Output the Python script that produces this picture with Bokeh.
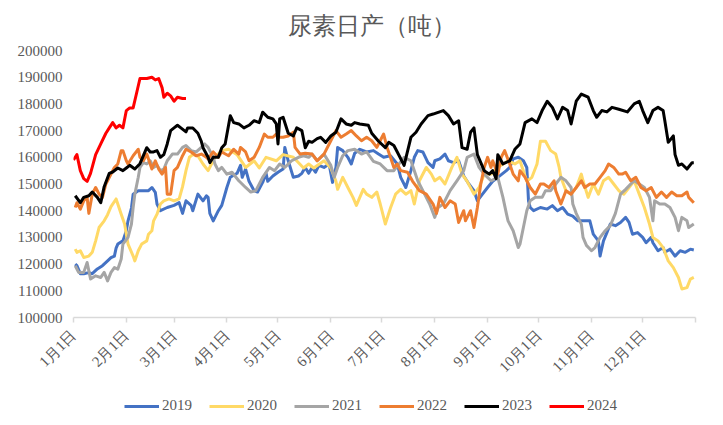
import math
from bokeh.plotting import figure
from bokeh.layouts import column
from bokeh.models import FixedTicker, NumeralTickFormatter, Legend, LegendItem, Range1d
from bokeh.embed import file_html
from bokeh.resources import INLINE

# ---- data ----
MONTH_DAYS = [0, 31, 59, 90, 120, 151, 181, 212, 243, 273, 304, 334, 365]
MONTH_LABELS = ["1月1日", "2月1日", "3月1日", "4月1日", "5月1日", "6月1日", "7月1日",
                "8月1日", "9月1日", "10月1日", "11月1日", "12月1日", ""]
Y_TICKS = [100000, 110000, 120000, 130000, 140000, 150000, 160000, 170000, 180000, 190000, 200000]

# (day of year, daily output in tonnes)
S2019 = [(1,120000),(2,119400),(4,116400),(6,116400),(9,116800),(11,116400),(14,118200),(17,119400),(20,121200),(22,122400),(24,123000),(25,126000),(26,127500),(29,128700),(31,132500),(32,136200),(34,141000),(35,146200),(38,147500),(41,147500),(44,147500),(46,148700),(48,146900),(49,142500),(51,140000),(55,141200),(59,142000),(62,143000),(64,139000),(66,143700),(69,142000),(70,140000),(73,146200),(76,143700),(78,145600),(79,145000),(80,139000),(82,136200),(85,140000),(87,142000),(90,148700),(92,152500),(96,154000),(98,157000),(99,152500),(101,155600),(103,151000),(106,147500),(108,147000),(111,150600),(113,154000),(114,151000),(117,153000),(120,154400),(123,155600),(124,163700),(126,158700),(129,152500),(132,153000),(134,154000),(136,156200),(138,154000),(140,156200),(142,154400),(144,157000),(147,156200),(150,157500),(152,150600),(154,156200),(155,163700),(158,162500),(161,160000),(163,157500),(165,161500),(168,163000),(172,162000),(176,162500),(179,161200),(182,160000),(186,160600),(190,157500),(192,152500),(195,148700),(198,155000),(200,160000),(202,162500),(205,162000),(208,158000),(211,156200),(212,158700),(215,159400),(218,161200),(220,158700),(223,158000),(226,158700),(229,153000),(232,150000),(235,147500),(237,143700),(240,146200),(243,148700),(246,151000),(249,152500),(254,155000),(256,156200),(258,159400),(261,160000),(264,158700),(266,156200),(267,143700),(268,141200),(270,140000),(274,141200),(278,140600),(281,141900),(284,140000),(287,141200),(290,138700),(293,138000),(296,136200),(299,136200),(303,136200),(305,131200),(308,128700),(309,123000),(311,128700),(313,131800),(315,135000),(318,134400),(321,135600),(324,137500),(326,135600),(328,131200),(331,131800),(334,130000),(336,128000),(339,130000),(340,128000),(343,125000),(346,126200),(347,124400),(350,125600),(353,123000),(356,125000),(359,124400),(362,125600),(364,125300)]

S2020 = [(1,125600),(2,124400),(4,125000),(6,122500),(9,123000),(11,124400),(13,128700),(15,133700),(18,136200),(20,138500),(22,141500),(25,144400),(26,142500),(28,138700),(30,135000),(31,131200),(32,127500),(35,123000),(36,121200),(38,125000),(40,127500),(43,128700),(44,131200),(46,132500),(47,136200),(49,138700),(51,142500),(53,143700),(56,144400),(59,143700),(62,144400),(64,149000),(66,155000),(68,160000),(70,161000),(73,160500),(76,157500),(79,155000),(83,160000),(87,162500),(91,163000),(96,161000),(101,156200),(106,158700),(109,156000),(113,160000),(119,158700),(123,161000),(129,160000),(135,156000),(138,157500),(141,156000),(147,158700),(151,156000),(154,151000),(155,148000),(158,152500),(161,148700),(164,145000),(166,142000),(168,145000),(170,148000),(172,146200),(175,145000),(178,147000),(180,142500),(181,140000),(183,135000),(186,141000),(189,146200),(192,148000),(195,146200),(198,147500),(200,142500),(203,151200),(207,156200),(210,153700),(212,151200),(215,152500),(218,150000),(222,156200),(225,160000),(228,153700),(231,151000),(235,146200),(238,148700),(241,153700),(245,153700),(249,156200),(252,157500),(255,158700),(259,157500),(262,158700),(266,151000),(269,152500),(272,157500),(274,166000),(277,166000),(280,162500),(283,161200),(285,156200),(286,152500),(289,147500),(292,146200),(295,148700),(298,153700),(299,151200),(302,145000),(305,150000),(308,146200),(311,151200),(314,152500),(317,150000),(320,147500),(323,146200),(326,148700),(329,151200),(332,146200),(335,141200),(338,135000),(340,130000),(343,128700),(346,126200),(349,121200),(352,118700),(355,115000),(357,110700),(360,111200),(362,114400),(364,115000)]

S2021 = [(1,119400),(3,116900),(6,116900),(8,120600),(10,114400),(13,115600),(16,115000),(18,116900),(20,113700),(22,116900),(24,118700),(26,118100),(28,121900),(29,127500),(32,130000),(34,135000),(35,141200),(36,146200),(38,152500),(39,156200),(41,158000),(43,157500),(45,158700),(47,156200),(49,157000),(51,155000),(53,155600),(55,158700),(58,161200),(61,161200),(64,163700),(66,164400),(69,162500),(72,162000),(75,163700),(77,165000),(79,163700),(82,160000),(83,157500),(85,155000),(87,156200),(90,153700),(93,154400),(97,151200),(101,148700),(104,147000),(107,147500),(111,152500),(115,156200),(118,155000),(121,157500),(124,156200),(128,158700),(132,160000),(135,160600),(138,160000),(140,161200),(143,158700),(147,161200),(151,157000),(153,152500),(155,156200),(158,160600),(161,162500),(165,163000),(169,161200),(172,162000),(176,158500),(180,157500),(184,155000),(188,155000),(194,160000),(198,158700),(202,151200),(205,147500),(209,142500),(212,137500),(214,141200),(217,142500),(221,147500),(225,151200),(229,155000),(231,160000),(235,161200),(238,156200),(241,153700),(245,151200),(249,152500),(252,145000),(254,139000),(255,136200),(258,132500),(261,126200),(262,127500),(264,133700),(266,140000),(268,143700),(271,145000),(275,145000),(277,147500),(280,147500),(283,150000),(286,152500),(289,151200),(292,148700),(293,142500),(295,139000),(298,135000),(299,130000),(301,127000),(304,125000),(306,126200),(309,130000),(312,132500),(315,134400),(318,139000),(321,146200),(324,148000),(327,150000),(329,151200),(332,150000),(335,148700),(338,145000),(340,136200),(341,143700),(344,142500),(347,142500),(350,141200),(353,137500),(355,132500),(357,137500),(360,136200),(361,133700),(364,135000)]

S2022 = [(1,141200),(2,143000),(4,140600),(6,143700),(8,145000),(9,139000),(11,146200),(13,148700),(15,146200),(17,145000),(19,150000),(22,153700),(24,156200),(26,157500),(28,162500),(29,162500),(31,158700),(32,157500),(35,160600),(38,163000),(39,160000),(41,158700),(43,161200),(46,155600),(48,158700),(50,155600),(52,153700),(54,156200),(55,146200),(57,146200),(59,155000),(61,156200),(64,160600),(66,163000),(69,162000),(72,160600),(75,161200),(78,160000),(79,159400),(82,162000),(85,160000),(87,162000),(91,160600),(94,163000),(97,161200),(98,163700),(101,162000),(103,158700),(106,160000),(109,163700),(112,168700),(114,167500),(117,167500),(119,168700),(121,167500),(123,167500),(126,168000),(129,169400),(130,163700),(133,161200),(136,161500),(140,161200),(143,158700),(147,161200),(151,166200),(154,170000),(157,167500),(160,168700),(163,170000),(166,168000),(169,166200),(172,167500),(175,166200),(178,163700),(181,167500),(182,168700),(184,163700),(186,160000),(188,156200),(190,157500),(192,155000),(196,154400),(199,151000),(203,147500),(207,146200),(211,142500),(213,139000),(215,145000),(218,141200),(221,143700),(224,142500),(226,135600),(229,140000),(230,136200),(233,140000),(235,133700),(237,141200),(239,150000),(241,156200),(243,160000),(245,156200),(246,158700),(249,153700),(251,160000),(253,162500),(256,157500),(258,153700),(261,151200),(262,155000),(265,152500),(268,148700),(271,146200),(274,150000),(276,150000),(279,148700),(282,151200),(283,147500),(286,142500),(289,147500),(292,146200),(295,148700),(298,151200),(300,148700),(303,150000),(306,150000),(309,152500),(312,155000),(314,157500),(317,156200),(320,153700),(322,153700),(324,154400),(327,151200),(330,152500),(333,148700),(336,147500),(339,148700),(342,145000),(345,147000),(348,145000),(351,147000),(354,145600),(357,145600),(360,147000),(361,145000),(364,143000)]

S2023 = [(1,145600),(4,143000),(6,145000),(9,145600),(11,147000),(14,145000),(16,143000),(18,149000),(21,154000),(23,154500),(26,156000),(29,155000),(31,156000),(33,157000),(36,155600),(39,157600),(41,160600),(43,163600),(45,162000),(47,162000),(49,162500),(51,160000),(53,161000),(55,165000),(57,170000),(59,171000),(61,172000),(63,171000),(66,169500),(67,171000),(70,171000),(73,169000),(75,166000),(76,163600),(79,160000),(80,158000),(82,160000),(85,160000),(87,163600),(89,165000),(92,175600),(94,173000),(97,172500),(100,171000),(103,172000),(106,173700),(109,173000),(111,176900),(114,175000),(117,174400),(119,172500),(120,165000),(121,174400),(123,175000),(126,169000),(129,168000),(131,171000),(134,170000),(136,163600),(138,166000),(140,165600),(143,167000),(145,167500),(148,165600),(151,168000),(154,169400),(157,174400),(160,172500),(163,172000),(165,173000),(168,172500),(173,172000),(175,169000),(179,166000),(183,163600),(185,165600),(188,164400),(190,162000),(194,157000),(198,167500),(201,169400),(204,172500),(208,175600),(211,176200),(217,177500),(220,175600),(223,172500),(226,173700),(228,163600),(231,163000),(233,169400),(235,171000),(237,161000),(241,155000),(244,153700),(246,155000),(248,152000),(249,161000),(252,157500),(256,158700),(259,163000),(262,165000),(265,173000),(269,174400),(272,173000),(275,177500),(278,181000),(281,178700),(284,174400),(287,178700),(290,177500),(292,172500),(295,181000),(298,183700),(302,182500),(305,177500),(307,175000),(310,177500),(313,177000),(316,178700),(320,178000),(325,177000),(329,180000),(332,181000),(334,177500),(337,173000),(340,177500),(343,178700),(346,177500),(347,173700),(349,165600),(352,168000),(353,161000),(355,157000),(357,157500),(360,155600),(363,158000),(364,158000)]

S2024 = [(0,159000),(2,161000),(4,155000),(6,152000),(8,151000),(10,154000),(13,161000),(16,165000),(19,169000),(21,171000),(23,173000),(25,171000),(27,172000),(29,171000),(31,177500),(33,178500),(35,178500),(37,184000),(39,189500),(43,189500),(46,190000),(48,189000),(50,189500),(52,186000),(53,182500),(55,184000),(57,183000),(59,181000),(61,182500),(64,182000),(66,182000)]

SERIES = [("2019", S2019, "#4472C4"), ("2020", S2020, "#FFD966"), ("2021", S2021, "#A5A5A5"),
          ("2022", S2022, "#ED7D31"), ("2023", S2023, "#000000"), ("2024", S2024, "#FF0000")]

TEXT_COLOR = "#595959"
SERIF = "Liberation Serif"

# ---- main chart ----
p = figure(frame_width=622, frame_height=267, output_backend="svg", toolbar_location=None,
           x_range=Range1d(0, 365), y_range=Range1d(100000, 200000),
           min_border_left=73, min_border_right=28, min_border_top=50, min_border_bottom=66)

p.title.text = "尿素日产（吨）"
p.title.align = "left"
p.title.offset = 214
p.title.vertical_align = "top"
p.title.text_font = SERIF
p.title.text_font_size = "24px"
p.title.text_font_style = "normal"
p.title.text_color = TEXT_COLOR
p.title.standoff = 19

p.xgrid.visible = False
p.ygrid.visible = False
p.outline_line_color = None
p.background_fill_color = "white"
p.border_fill_color = "white"

xa = p.xaxis[0]
xa.ticker = FixedTicker(ticks=MONTH_DAYS)
xa.major_label_overrides = {d: lbl for d, lbl in zip(MONTH_DAYS, MONTH_LABELS)}
xa.major_label_orientation = math.pi / 4
xa.axis_line_color = "#D9D9D9"
xa.axis_line_width = 1.5
xa.major_tick_line_color = "#D9D9D9"
xa.major_tick_line_width = 1.5
xa.major_tick_out = 5
xa.major_tick_in = 0
xa.minor_tick_line_color = None
xa.major_label_text_font = SERIF
xa.major_label_text_font_size = "15px"
xa.major_label_text_color = TEXT_COLOR
xa.major_label_standoff = 10

ya = p.yaxis[0]
ya.ticker = FixedTicker(ticks=Y_TICKS)
ya.formatter = NumeralTickFormatter(format="0")
ya.axis_line_color = None
ya.major_tick_line_color = None
ya.minor_tick_line_color = None
ya.major_label_text_font = SERIF
ya.major_label_text_font_size = "15px"
ya.major_label_text_color = TEXT_COLOR

for name, data, color in SERIES:
    p.line([d for d, v in data], [v for d, v in data], line_color=color, line_width=3, line_join="round")

# ---- legend strip below the chart ----
q = figure(width=723, height=42, output_backend="svg", toolbar_location=None,
           x_range=Range1d(0, 365), y_range=Range1d(0, 1),
           x_axis_location=None, y_axis_location=None, min_border=0)
q.outline_line_color = None
q.xgrid.visible = False
q.ygrid.visible = False
q.background_fill_color = "white"
q.border_fill_color = "white"

items = []
for name, data, color in SERIES:
    r = q.line([d for d, v in data], [v for d, v in data], line_color=color, line_width=3)
    items.append(LegendItem(label=name, renderers=[r]))

legend = Legend(items=items, orientation="horizontal", location=(51, 11),
                glyph_width=35, glyph_height=16, label_standoff=3, spacing=17,
                border_line_color=None, background_fill_alpha=0,
                label_text_font=SERIF, label_text_font_size="15px",
                label_text_color=TEXT_COLOR, padding=3, margin=0)
q.add_layout(legend, "center")

layout = column(p, q, spacing=0)
open("out.html", "w").write(file_html(layout, INLINE))
